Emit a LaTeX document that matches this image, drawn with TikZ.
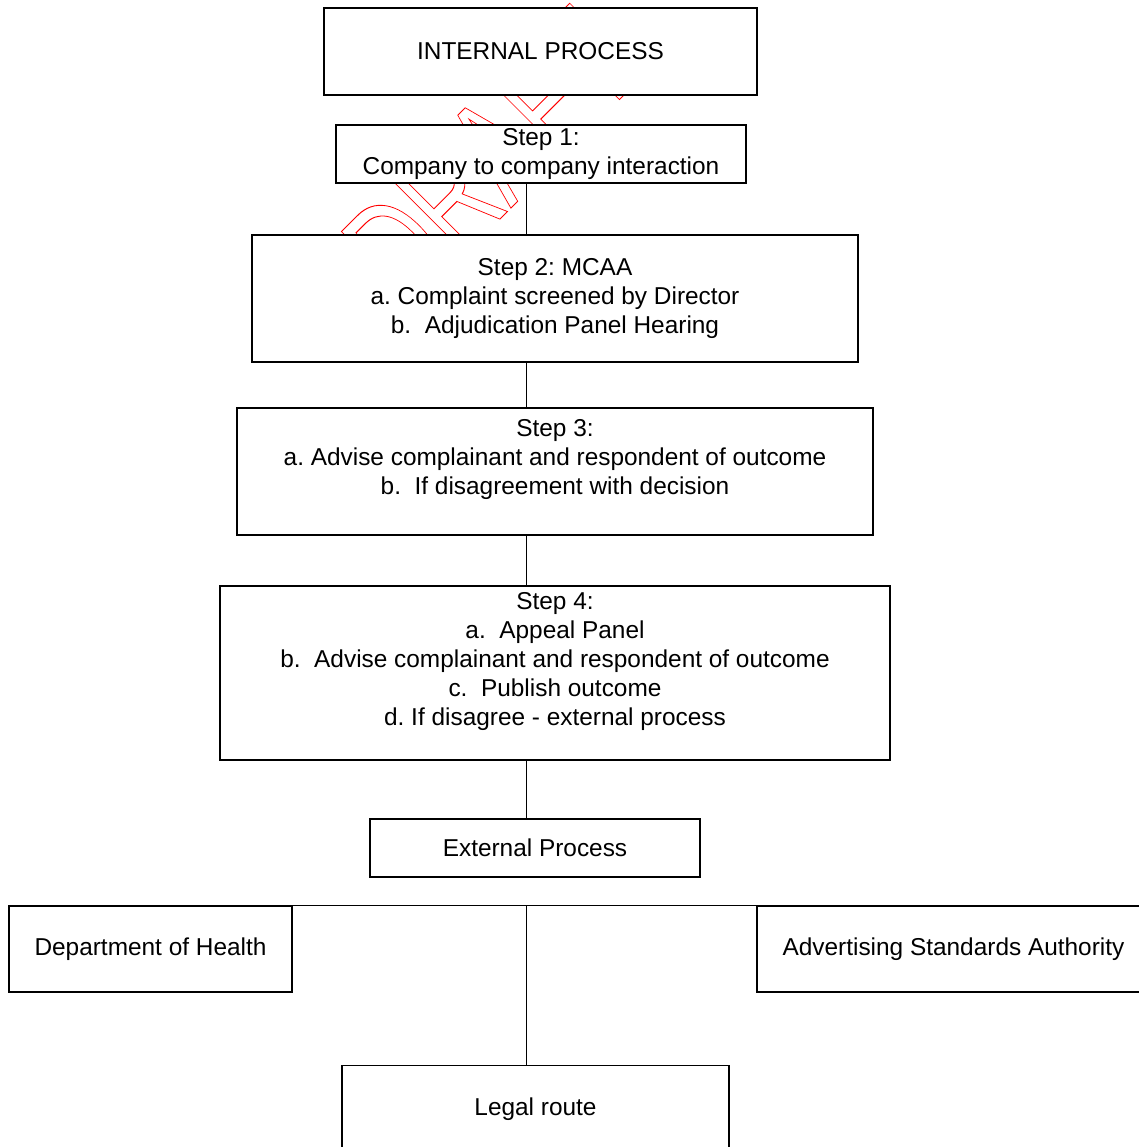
\documentclass[tikz,border=0pt]{standalone}
\usepackage{fontspec}
\setmainfont{Liberation Sans}
\usepackage{graphicx}
\frenchspacing

\newcommand{\boxfont}{\fontsize{12.2}{14.5}\selectfont}
\newcommand{\markfont}{\fontsize{75}{75}\selectfont}
\newcommand{\outlined}[1]{\special{pdf:literal direct 1 Tr 0.5 w}#1\special{pdf:literal direct 0 Tr}}

\begin{document}
\begin{tikzpicture}[x=0.5pt, y=-0.5pt,
	box/.style={draw, fill=white, line width=0.8pt, inner sep=0pt, align=center, font=\boxfont},
	link/.style={line width=0.5pt}]
	\useasboundingbox (0,0) rectangle (1139,1147);
	% watermark behind everything
	\node[text=red, rotate=45, font=\markfont, inner sep=0pt] (draft) at (490,156) {\scalebox{0.667}[1]{\outlined{DRAFT}}};
	\coordinate (spine) at (526,0);
	% internal process
	\node[box, minimum width=216.5pt, minimum height=43.5pt] (intproc) at (540.5,51.5) {INTERNAL PROCESS};
	\node[box, minimum width=205pt, minimum height=29pt] (step1) at (541,154) {Step 1:\\Company to company interaction};
	\node[box, minimum width=303pt, minimum height=63.5pt] (step2) at (555,298.5) {Step 2: MCAA\\a. Complaint screened by Director\\b.\ \ Adjudication Panel Hearing};
	\node[box, minimum width=318pt, minimum height=63.5pt] (step3) at (555,471.5) {Step 3:\\a. Advise complainant and respondent of outcome\\b.\ \ If disagreement with decision\\~};
	\node[box, minimum width=335pt, minimum height=87pt] (step4) at (555,673) {Step 4:\\a.\ \ Appeal Panel\\b.\ \ Advise complainant and respondent of outcome\\c.\ \ Publish outcome\\d. If disagree - external process\\~};
	% external process
	\node[box, minimum width=165pt, minimum height=29pt] (extproc) at (535,848) {External Process};
	\node[box, minimum width=141.5pt, minimum height=43pt] (doh) at (150.5,949) {Department of Health};
	\node[box, minimum width=196.5pt, minimum height=43pt] (asa) at (953.5,949) {Advertising Standards Authority};
	\node[box, minimum width=193.5pt, minimum height=43.5pt] (legal) at (535.5,1109) {Legal route};
	% connectors
	\draw[link] (step1.south -| spine) -- (step2.north -| spine);
	\draw[link] (step2.south -| spine) -- (step3.north -| spine);
	\draw[link] (step3.south -| spine) -- (step4.north -| spine);
	\draw[link] (step4.south -| spine) -- (extproc.north -| spine);
	\draw[link] (doh.north east) -- (asa.north west);
	\draw[link] (doh.north -| spine) -- (legal.north -| spine);
\end{tikzpicture}
\end{document}
